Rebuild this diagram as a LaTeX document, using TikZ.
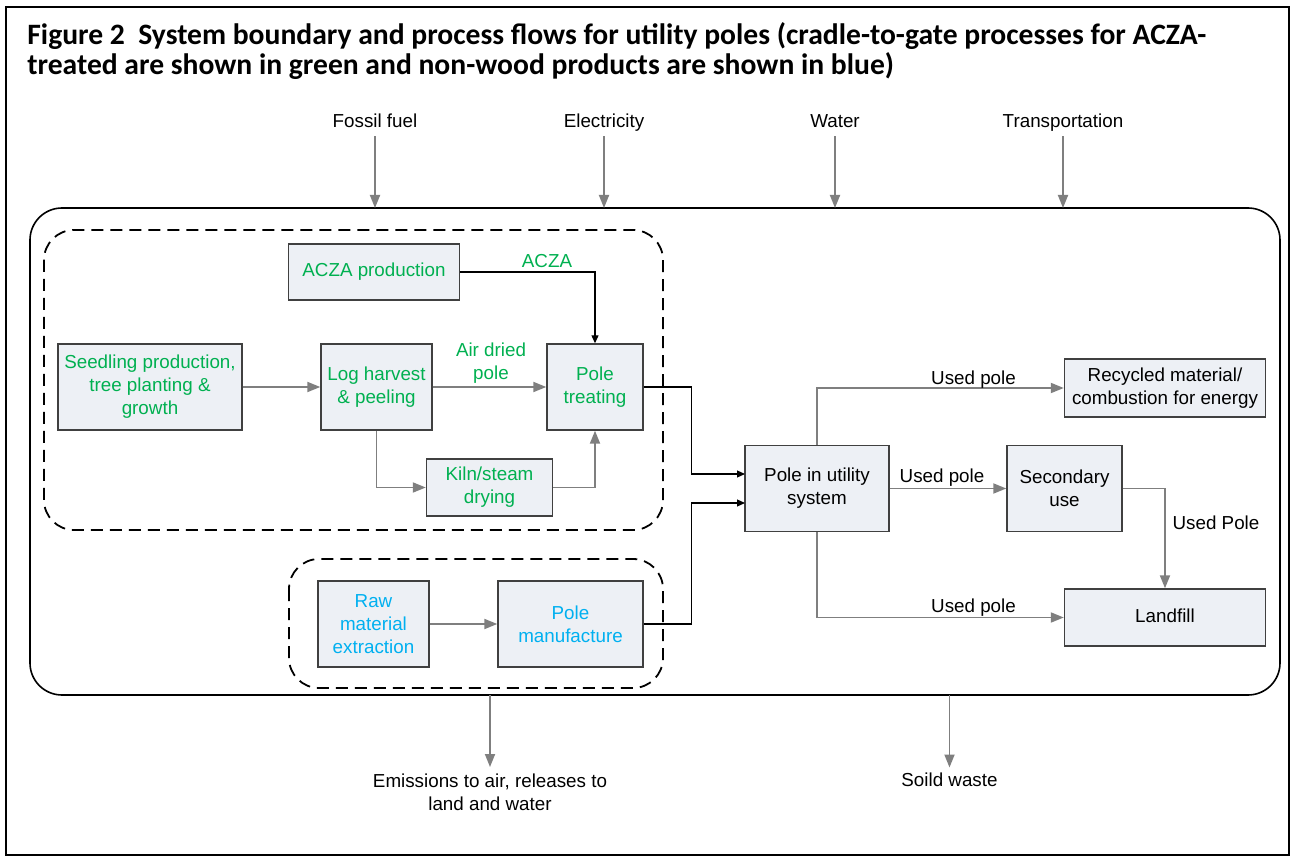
\documentclass[tikz,border=0pt]{standalone}
\usepackage{fontspec}
\setmainfont{Liberation Sans}
\newfontfamily\captionfont{Carlito}
\usetikzlibrary{arrows.meta}
\definecolor{treatgreen}{HTML}{00B050}
\definecolor{nonwood}{HTML}{00B0F0}
\definecolor{boxfill}{HTML}{EDF0F5}
\definecolor{flowgray}{HTML}{7F7F7F}

\begin{document}
\begin{tikzpicture}[x=0.5pt,y=-0.5pt,
  font=\fontsize{9.4}{11.5}\selectfont,
  proc/.style={draw=black!75,line width=0.7pt,fill=boxfill,align=center,inner sep=0pt},
  lbl/.style={inner sep=0pt,anchor=base,align=center},
  flow/.style={draw=flowgray,line width=0.9pt,-{Triangle[length=6.5pt,width=5pt]}},
  feed/.style={draw=black,line width=0.6pt,-{Triangle[length=4pt,width=3.5pt]}},
  bound/.style={draw=black,dash pattern=on 6pt off 3.5pt,line width=0.9pt,rounded corners=15pt}]
\useasboundingbox (0,0) rectangle (1292,861);
\draw[line width=1.2pt] (6,7) rectangle (1289,855);
\node[anchor=base west,align=left,inner sep=0pt,
  font=\captionfont\bfseries\fontsize{14.8}{15}\selectfont] (title) at (27,75)
  {Figure 2\ \ System boundary and process flows for utility poles (cradle-to-gate processes for ACZA-\\
   treated are shown in green and non-wood products are shown in blue)};

% system boundary and the two groups
\draw[line width=0.8pt,rounded corners=16pt] (30,208) rectangle (1280,695);
\draw[bound] (44,230) rectangle (663,530);
\draw[bound] (289,559) rectangle (663,688);
\coordinate (systop) at (0,208);
\coordinate (sysbot) at (0,695);

% inputs
\node[lbl] (fuel) at (375,127.5) {Fossil fuel};
\node[lbl] (elec) at (604,127.5) {Electricity};
\node[lbl] (water) at (835,127.5) {Water};
\node[lbl] (transp) at (1063,127.5) {Transportation};
\foreach \n in {fuel,elec,water,transp}
  \draw[flow] ([yshift=-4.5pt]\n.base) -- (\n.base |- systop);

% processes
\node[proc,text=treatgreen,minimum width=85.5pt,minimum height=28pt] (acza) at (374,272) {ACZA production};
\node[proc,text=treatgreen,minimum width=92pt,minimum height=43pt] (seed) at (150,387) {Seedling production,\\tree planting \&\\growth};
\node[proc,text=treatgreen,minimum width=55.5pt,minimum height=43pt] (logh) at (376.5,387) {Log harvest\\\& peeling};
\node[proc,text=treatgreen,minimum width=48pt,minimum height=43pt] (treat) at (595,387) {Pole\\treating};
\node[proc,text=treatgreen,minimum width=63pt,minimum height=28.5pt] (kiln) at (489.5,487.5) {Kiln/steam\\drying};
\node[proc,text=nonwood,minimum width=55.5pt,minimum height=43pt] (raw) at (373.5,624) {Raw\\material\\extraction};
\node[proc,text=nonwood,minimum width=72.5pt,minimum height=43pt] (manuf) at (570.5,624) {Pole\\manufacture};
\node[proc,minimum width=72pt,minimum height=43pt] (util) at (817,488.5) {Pole in utility\\system};
\node[proc,minimum width=57.5pt,minimum height=43pt] (second) at (1064.5,488.5) {Secondary\\use};
\node[proc,minimum width=100.5pt,minimum height=29pt] (recyc) at (1165,388) {Recycled material/\\combustion for energy};
\node[proc,minimum width=100.5pt,minimum height=28.5pt,text depth=0.2em] (landf) at (1165,617.5) {Landfill};
\coordinate (util-in1) at (745,474);
\coordinate (util-in2) at (745,503);

% flows
\draw[feed] (acza.east) -| (treat.north);
\draw[flow] (seed) -- (logh);
\draw[flow] (logh) -- (treat);
\draw[flow] (logh.south) |- (kiln.west);
\draw[flow] (kiln.east) -| (treat.south);
\draw[flow] (raw) -- (manuf);
\draw[feed] (treat.east) -- ++(48,0) |- (util-in1);
\draw[feed] (manuf.east) -- ++(48,0) |- (util-in2);
\draw[flow] (util.north) |- (recyc.west);
\draw[flow] (util) -- (second);
\draw[flow] (second.east) -| (landf.north);
\draw[flow] (util.south) |- (landf.west);

\node[lbl,text=treatgreen] (acza-lbl) at (547,268) {ACZA};
\node[lbl,text=treatgreen] (dried-lbl) at (491,380) {Air dried\\pole};
\node[lbl] (used1) at (973.5,385) {Used pole};
\node[lbl] (used2) at (942,482.5) {Used pole};
\node[lbl] (used3) at (1216,530) {Used Pole};
\node[lbl] (used4) at (973.5,612.5) {Used pole};

% outputs
\node[lbl] (emis) at (490,810) {Emissions to air, releases to\\land and water};
\node[lbl] (waste) at (949.5,786.5) {Soild waste};
\draw[flow] (emis.base |- sysbot) -- ([yshift=21.5pt]emis.base);
\draw[flow] (waste.base |- sysbot) -- ([yshift=9.5pt]waste.base);
\end{tikzpicture}
\end{document}
